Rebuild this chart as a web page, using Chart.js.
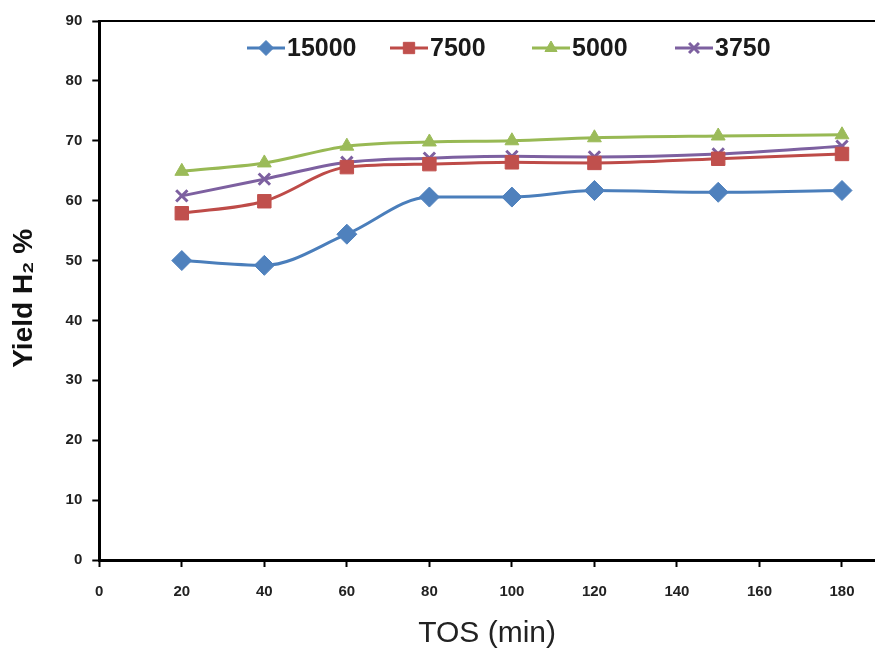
<!DOCTYPE html>
<html>
<head>
<meta charset="utf-8">
<script src="https://cdn.jsdelivr.net/npm/chart.js@4"></script>
<style>
  html, body { margin: 0; padding: 0; background: #fff; }
  #wrap { width: 875px; height: 650px; }
</style>
</head>
<body>
<div id="wrap"><canvas id="myChart"></canvas></div>
<script>
'use strict';

var tos = [20, 40, 60, 80, 100, 120, 150, 180];
var seriesNames = ["15000", "7500", "5000", "3750"];
var y15000 = [50.0, 49.2, 54.4, 60.6, 60.6, 61.7, 61.4, 61.7];
var y7500 = [57.9, 59.9, 65.6, 66.1, 66.4, 66.3, 67.0, 67.8];
var y5000 = [64.9, 66.3, 69.1, 69.8, 70.0, 70.5, 70.8, 71.0];
var y3750 = [60.8, 63.6, 66.4, 67.1, 67.4, 67.3, 67.8, 69.1];
var xTicks = [0, 20, 40, 60, 80, 100, 120, 140, 160, 180];
var yTicks = [0, 10, 20, 30, 40, 50, 60, 70, 80, 90];

function pts(ys) {
    return ys.map(function (v, i) { return { x: tos[i], y: v }; });
}

var styles = [
    { color: '#4A7EBB', fill: '#4F81BD', marker: 'rectRot', r: 10, lr: 7.5 },
    { color: '#BE4B48', fill: '#C0504D', marker: 'rect', r: 9.5, lr: 8 },
    { color: '#98B954', fill: '#9BBB59', marker: 'triangle', r: 8, lr: 7 },
    { color: '#7D60A0', fill: '#8064A2', marker: 'crossRot', r: 8, lr: 7 }
];
var values = [y15000, y7500, y5000, y3750];

var datasets = values.map(function (ys, i) {
    var s = styles[i];
    return {
        label: seriesNames[i],
        data: pts(ys),
        borderColor: s.color,
        backgroundColor: s.fill,
        borderWidth: 3,
        pointStyle: s.marker,
        pointRadius: s.r,
        pointBorderColor: s.marker === 'crossRot' ? s.color : s.fill,
        pointBorderWidth: s.marker === 'crossRot' ? 3 : 1,
        cubicInterpolationMode: 'monotone',
        tension: 0.3
    };
});

// legend drawn inside the plot, plus the top frame line
var legendX = [247, 390, 532, 675];
var frame = {
    id: 'frame',
    afterDraw: function (chart) {
        var c = chart.ctx, a = chart.chartArea;
        c.save();
        c.strokeStyle = '#000';
        c.lineWidth = 2;
        c.beginPath();
        c.moveTo(a.left, a.top);
        c.lineTo(a.right, a.top);
        c.stroke();

        var y = 48;
        c.font = 'bold 25px "Liberation Sans", Arial, sans-serif';
        c.textBaseline = 'middle';
        chart.data.datasets.forEach(function (ds, i) {
            var x0 = legendX[i];
            c.strokeStyle = ds.borderColor;
            c.lineWidth = 3;
            c.beginPath();
            c.moveTo(x0, y);
            c.lineTo(x0 + 38, y);
            c.stroke();
            c.fillStyle = ds.backgroundColor;
            c.strokeStyle = ds.pointBorderColor;
            c.lineWidth = ds.pointBorderWidth;
            Chart.helpers.drawPoint(c, { pointStyle: ds.pointStyle, radius: styles[i].lr, rotation: 0, borderWidth: ds.pointBorderWidth }, x0 + 19, y);
            c.fillStyle = '#1a1a1a';
            c.fillText(ds.label, x0 + 40, y + 1);
        });
        c.restore();
    }
};

var ctx = document.getElementById('myChart').getContext('2d');
var chart = new Chart(ctx, {
    type: 'line',
    data: { datasets: datasets },
    options: {
        responsive: true,
        maintainAspectRatio: false,
        animation: false,
        layout: { autoPadding: false, padding: { top: 21, right: 0, bottom: 1, left: 0 } },
        plugins: {
            legend: { display: false },
            tooltip: { enabled: false }
        },
        scales: {
            x: {
                type: 'linear',
                min: 0,
                max: 188,
                afterBuildTicks: function (axis) {
                    axis.ticks = xTicks.map(function (v) { return { value: v }; });
                },
                grid: { drawOnChartArea: false, color: '#000', tickLength: 7, tickWidth: 2 },
                border: { color: '#000', width: 3 },
                ticks: {
                    color: '#222',
                    padding: 16,
                    font: { family: '"Liberation Sans", Arial, sans-serif', size: 15, weight: 'bold' }
                },
                title: {
                    display: true,
                    text: 'TOS (min)',
                    color: '#222',
                    padding: { top: 2, bottom: 0 },
                    font: { family: '"Liberation Sans", Arial, sans-serif', size: 30, lineHeight: 1 }
                }
            },
            y: {
                min: 0,
                max: 90,
                afterBuildTicks: function (axis) {
                    axis.ticks = yTicks.map(function (v) { return { value: v }; });
                },
                grid: { drawOnChartArea: false, color: '#000', tickLength: 7, tickWidth: 2 },
                border: { color: '#000', width: 3 },
                ticks: {
                    color: '#222',
                    padding: 10,
                    font: { family: '"Liberation Sans", Arial, sans-serif', size: 15, weight: 'bold' }
                },
                title: {
                    display: true,
                    text: 'Yield H\u2082 %  ',
                    color: '#111',
                    padding: { top: 7, bottom: 15 },
                    font: { family: '"Liberation Sans", Arial, sans-serif', size: 28, weight: 'bold' }
                }
            }
        }
    },
    plugins: [frame]
});
</script>
</body>
</html>
